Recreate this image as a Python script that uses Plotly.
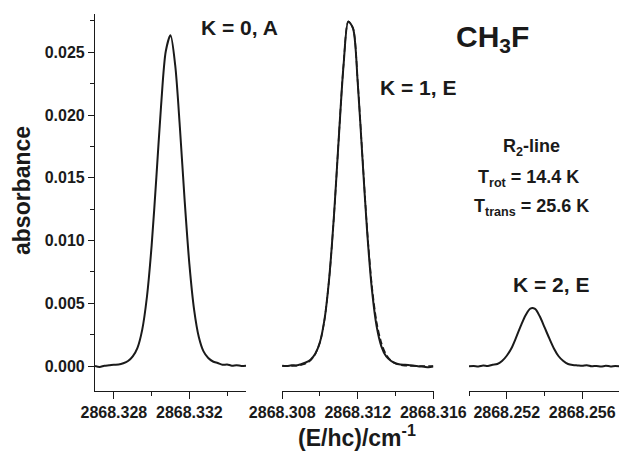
import plotly.graph_objects as go

# ---- spectra: wavenumber (cm^-1) and absorbance for the three K components ----
wn_k0 = [2868.32700, 2868.32725, 2868.32750, 2868.32775, 2868.32800, 2868.32825,
         2868.32850, 2868.32875, 2868.32900, 2868.32925, 2868.32950, 2868.32975,
         2868.33000, 2868.33025, 2868.33050, 2868.33075, 2868.33100, 2868.33125,
         2868.33150, 2868.33175, 2868.33200, 2868.33225, 2868.33250, 2868.33275,
         2868.33300, 2868.33325, 2868.33350, 2868.33375, 2868.33400, 2868.33425,
         2868.33450, 2868.33475, 2868.33500]
abs_k0 = [0.00000, -0.00008, 0.00003, 0.00006, 0.00010, 0.00012, 0.00022, 0.00040,
          0.00077, 0.00145, 0.00288, 0.00550, 0.00960, 0.01501, 0.02072, 0.02508,
          0.02635, 0.02395, 0.01895, 0.01318, 0.00812, 0.00450, 0.00232, 0.00117,
          0.00064, 0.00036, 0.00024, 0.00010, 0.00012, 0.00003, 0.00006, 0.00001,
          0.00003]

wn_k1 = [2868.30800, 2868.30825, 2868.30850, 2868.30875, 2868.30900, 2868.30925,
         2868.30950, 2868.30975, 2868.31000, 2868.31025, 2868.31050, 2868.31075,
         2868.31100, 2868.31125, 2868.31150, 2868.31175, 2868.31200, 2868.31225,
         2868.31250, 2868.31275, 2868.31300, 2868.31325, 2868.31350, 2868.31375,
         2868.31400, 2868.31425, 2868.31450, 2868.31475, 2868.31500, 2868.31525,
         2868.31550, 2868.31575, 2868.31600]
abs_k1 = [0.00002, 0.00000, 0.00006, 0.00005, 0.00014, 0.00028, 0.00050, 0.00097,
          0.00191, 0.00382, 0.00719, 0.01219, 0.01828, 0.02400, 0.02745, 0.02690,
          0.02255, 0.01653, 0.01064, 0.00608, 0.00316, 0.00157, 0.00078, 0.00042,
          0.00022, 0.00012, 0.00010, 0.00006, 0.00002, -0.00003, -0.00006, -0.00010,
          -0.00004]
fit_k1 = [0.00000, 0.00000, 0.00001, 0.00003, 0.00008, 0.00020, 0.00045, 0.00095,
          0.00188, 0.00378, 0.00715, 0.01215, 0.01830, 0.02405, 0.02745, 0.02692,
          0.02262, 0.01668, 0.01085, 0.00640, 0.00350, 0.00185, 0.00092, 0.00045,
          0.00020, 0.00008, 0.00003, 0.00001, 0.00000, 0.00000, 0.00000, 0.00000,
          0.00000]

wn_k2 = [2868.25000, 2868.25025, 2868.25050, 2868.25075, 2868.25100, 2868.25125,
         2868.25150, 2868.25175, 2868.25200, 2868.25225, 2868.25250, 2868.25275,
         2868.25300, 2868.25325, 2868.25350, 2868.25375, 2868.25400, 2868.25425,
         2868.25450, 2868.25475, 2868.25500, 2868.25525, 2868.25550, 2868.25575,
         2868.25600, 2868.25625, 2868.25650, 2868.25675, 2868.25700, 2868.25725,
         2868.25750, 2868.25775, 2868.25800]
abs_k2 = [-0.00002, 0.00000, -0.00003, 0.00004, 0.00001, 0.00010, 0.00016, 0.00040,
          0.00082, 0.00142, 0.00228, 0.00322, 0.00405, 0.00458, 0.00455, 0.00396,
          0.00310, 0.00222, 0.00140, 0.00078, 0.00040, 0.00016, 0.00008, 0.00005,
          0.00002, 0.00006, -0.00002, 0.00001, -0.00004, 0.00002, -0.00003, 0.00000,
          -0.00003]

# ---- axis ticks ----
y_ticks = [0.000, 0.005, 0.010, 0.015, 0.020, 0.025]
y_minor = [0.0025, 0.0075, 0.0125, 0.0175, 0.0225, 0.0275]
x1_ticks = [2868.328, 2868.332]
x1_minor = [2868.330, 2868.334]
x2_ticks = [2868.308, 2868.312, 2868.316]
x2_minor = [2868.310, 2868.314]
x3_ticks = [2868.252, 2868.256]
x3_minor = [2868.250, 2868.254]

W, H = 619, 452
FONT = "Liberation Sans, Arial, Helvetica, sans-serif"
INK = "#1a1a1a"


def px(x):
    return x / W


def py(y):
    return 1 - y / H


fig = go.Figure()
line = dict(color=INK, width=2, shape="spline", smoothing=0.8)
fig.add_trace(go.Scatter(x=wn_k0, y=abs_k0, xaxis="x", yaxis="y", mode="lines", line=line))
fig.add_trace(go.Scatter(x=wn_k1, y=fit_k1, xaxis="x2", yaxis="y", mode="lines",
                         line=dict(color=INK, width=1.6, dash="6px,3px", shape="spline", smoothing=0.8)))
fig.add_trace(go.Scatter(x=wn_k1, y=abs_k1, xaxis="x2", yaxis="y", mode="lines", line=line))
fig.add_trace(go.Scatter(x=wn_k2, y=abs_k2, xaxis="x3", yaxis="y", mode="lines", line=line))

tickfont = dict(family=FONT, size=16, color=INK, weight="bold")


def xaxis(dom, rng, ticks, minor):
    return dict(
        domain=dom, range=rng, anchor="y", automargin=False,
        showline=True, linecolor=INK, linewidth=1.2,
        ticks="outside", ticklen=7, tickwidth=1.2, tickcolor=INK,
        tickvals=ticks, ticktext=[f"{t:.3f}" for t in ticks], tickfont=tickfont,
        minor=dict(tickvals=minor, ticks="outside", ticklen=4, tickwidth=1.2,
                   tickcolor=INK, showgrid=False),
        showgrid=False, zeroline=False, fixedrange=True,
    )


y_bot, y_top = 391, 14
fig.update_layout(
    width=W, height=H,
    margin=dict(l=0, r=0, t=0, b=0, autoexpand=False),
    paper_bgcolor="white", plot_bgcolor="white",
    showlegend=False,
    xaxis=xaxis([px(95), px(246)], [2868.327, 2868.335], x1_ticks, x1_minor),
    xaxis2=xaxis([px(282), px(433.5)], [2868.30799, 2868.31601], x2_ticks, x2_minor),
    xaxis3=xaxis([px(469), 1.0], [2868.250, 2868.25795], x3_ticks, x3_minor),
    yaxis=dict(
        domain=[py(y_bot), py(y_top)], range=[-0.00199, 0.02805], anchor="x",
        automargin=False,
        showline=True, linecolor=INK, linewidth=1.2,
        ticks="outside", ticklen=6, tickwidth=1.2, tickcolor=INK,
        tickvals=y_ticks, ticktext=[f"{t:.3f}" for t in y_ticks], tickfont=tickfont,
        minor=dict(tickvals=y_minor, ticks="outside", ticklen=4, tickwidth=1.2,
                   tickcolor=INK, showgrid=False),
        showgrid=False, zeroline=False, fixedrange=True,
    ),
)


def label(text, x, y, size, angle=0):
    fig.add_annotation(
        text=text, x=px(x), y=py(y), xref="paper", yref="paper",
        xanchor="center", yanchor="middle", showarrow=False, textangle=angle,
        font=dict(family=FONT, size=size, color=INK, weight="bold"),
    )


label("K = 0, A", 239, 28, 21)
label("K = 1, E", 418, 87, 21)
label("K = 2, E", 551, 284, 21)
label("CH<sub>3</sub>F", 493, 38, 30)
label("R<sub>2</sub>-line", 531, 147, 18)
label("T<sub>rot</sub> = 14.4 K", 528, 178, 18)
label("T<sub>trans</sub> = 25.6 K", 531, 207, 18)
label("absorbance", 22, 191, 23, angle=-90)
label("(E/hc)/cm<sup>-1</sup>", 357, 436, 23)

fig.write_html("out.html")
